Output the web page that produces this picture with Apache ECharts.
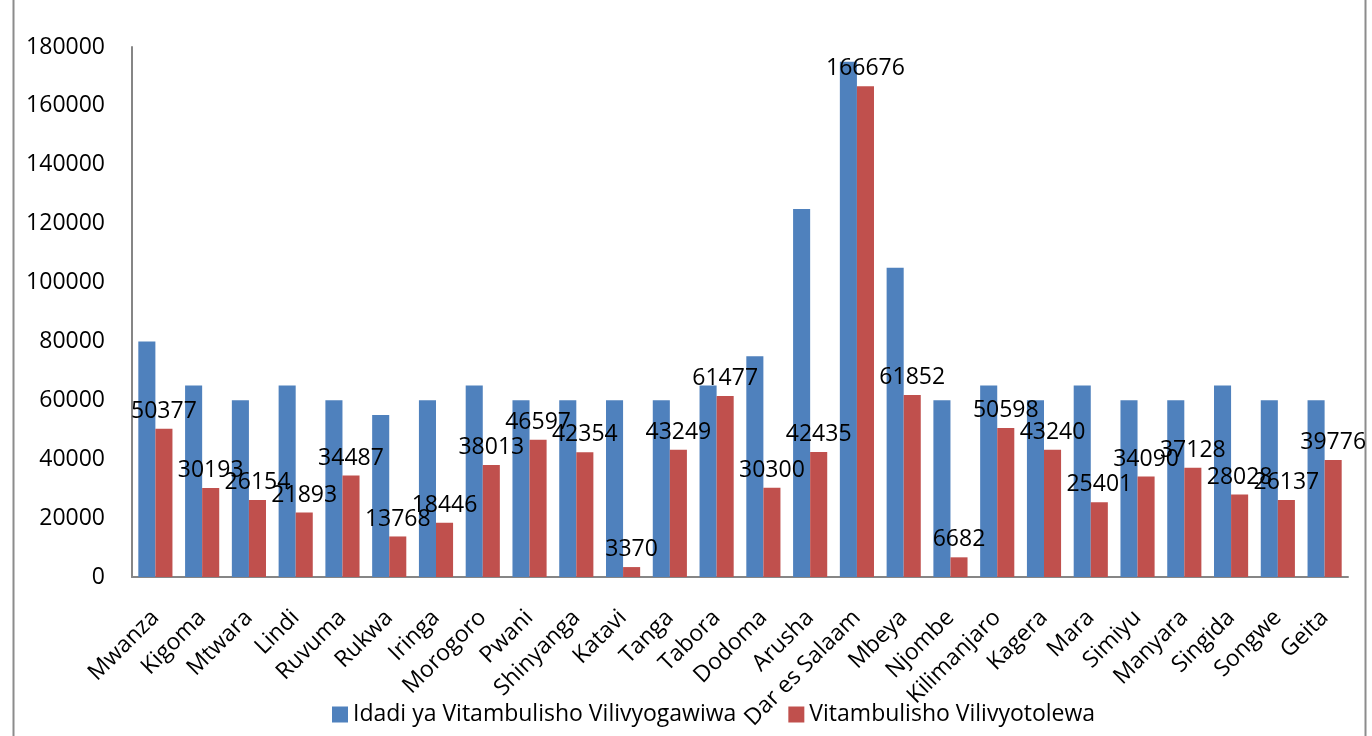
<!DOCTYPE html>
<html>
<head>
<meta charset="utf-8">
<script src="https://cdn.jsdelivr.net/npm/echarts@6/dist/echarts.min.js"></script>
<style>
  html, body { margin: 0; padding: 0; background: #fff; }
  #chart { width: 1372px; height: 736px; }
</style>
</head>
<body>
<div id="chart"></div>
<script>
var regions = ['Mwanza', 'Kigoma', 'Mtwara', 'Lindi', 'Ruvuma', 'Rukwa', 'Iringa', 'Morogoro', 'Pwani',
  'Shinyanga', 'Katavi', 'Tanga', 'Tabora', 'Dodoma', 'Arusha', 'Dar es Salaam', 'Mbeya', 'Njombe',
  'Kilimanjaro', 'Kagera', 'Mara', 'Simiyu', 'Manyara', 'Singida', 'Songwe', 'Geita'];

// Idadi ya Vitambulisho Vilivyogawiwa (no labels in the picture)
var issued = [80000, 65000, 60000, 65000, 60000, 55000, 60000, 65000, 60000,
  60000, 60000, 60000, 65000, 75000, 125000, 175000, 105000, 60000,
  65000, 60000, 65000, 60000, 60000, 65000, 60000, 60000];

// Vitambulisho Vilivyotolewa
var produced = [50377, 30193, 26154, 21893, 34487, 13768, 18446, 38013, 46597,
  42354, 3370, 43249, 61477, 30300, 42435, 166676, 61852, 6682,
  50598, 43240, 25401, 34090, 37128, 28028, 26137, 39776];

var yTicks = { min: 0, max: 180000, interval: 20000 };

var chartDom = document.getElementById('chart');
var myChart = echarts.init(chartDom);
var font = 'Open Sans';

var option = {
  animation: false,
  textStyle: { fontFamily: font },
  graphic: [
    {
      type: 'rect',
      shape: { x: 13.5, y: -2, width: 1352, height: 740 },
      style: { fill: 'none', stroke: '#8c8c8c', lineWidth: 2 },
      silent: true
    }
  ],
  grid: { left: 132, right: 24, top: 47, bottom: 159 },
  legend: {
    top: 698,
    left: 327,
    itemWidth: 16,
    itemHeight: 16,
    itemGap: 52,
    icon: 'rect',
    textStyle: { fontFamily: font, fontSize: 23, color: '#000' },
    data: ['Idadi ya Vitambulisho Vilivyogawiwa', 'Vitambulisho Vilivyotolewa']
  },
  xAxis: {
    type: 'category',
    data: regions,
    axisLine: { lineStyle: { color: '#868686', width: 2 } },
    axisTick: { show: false },
    axisLabel: {
      interval: 0,
      rotate: 45,
      margin: 37,
      color: '#000',
      fontFamily: font,
      fontSize: 23
    }
  },
  yAxis: {
    type: 'value',
    min: yTicks.min,
    max: yTicks.max,
    interval: yTicks.interval,
    axisLine: { show: true, lineStyle: { color: '#868686', width: 2 } },
    axisTick: { show: false },
    splitLine: { show: false },
    axisLabel: {
      margin: 27,
      color: '#000',
      fontFamily: font,
      fontSize: 23,
      formatter: function (v) { return String(v); }
    }
  },
  series: [
    {
      name: 'Idadi ya Vitambulisho Vilivyogawiwa',
      type: 'bar',
      data: issued,
      barGap: '0%',
      barCategoryGap: '27%',
      itemStyle: { color: '#4F81BD' }
    },
    {
      name: 'Vitambulisho Vilivyotolewa',
      type: 'bar',
      data: produced,
      itemStyle: { color: '#C0504D' },
      label: {
        show: true,
        position: 'top',
        distance: 6,
        color: '#000',
        fontFamily: font,
        fontSize: 23
      }
    }
  ]
};

myChart.setOption(option);
</script>
</body>
</html>
